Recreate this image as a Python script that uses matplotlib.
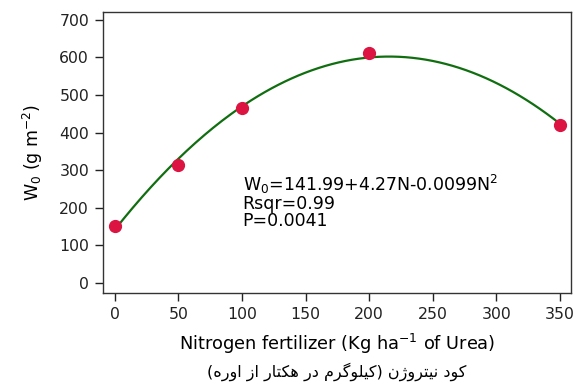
import numpy as np
import matplotlib
matplotlib.use('Agg')
import matplotlib.pyplot as plt

# measured points
nitrogen = [0, 50, 100, 200, 350]
w0 = [152, 315, 465, 612, 420]

# fitted quadratic W0 = a + bN + cN^2
coef_a, coef_b, coef_c = 141.99, 4.27, -0.0099

xticks = [0, 50, 100, 150, 200, 250, 300, 350]
yticks = [0, 100, 200, 300, 400, 500, 600, 700]

persian_label = 'کود نیتروژن (کیلوگرم در هکتار از اوره)'

# simple arabic shaping (matplotlib has no RTL support)
forms = {
    'ک': ('\uFB8E', '\uFB8F', '\uFB90', '\uFB91'),
    'گ': ('\uFB92', '\uFB93', '\uFB94', '\uFB95'),
    'ی': ('\uFBFC', '\uFBFD', '\uFBFE', '\uFBFF'),
    'ن': ('\uFEE5', '\uFEE6', '\uFEE7', '\uFEE8'),
    'ت': ('\uFE95', '\uFE96', '\uFE97', '\uFE98'),
    'ل': ('\uFEDD', '\uFEDE', '\uFEDF', '\uFEE0'),
    'م': ('\uFEE1', '\uFEE2', '\uFEE3', '\uFEE4'),
    'ه': ('\uFEE9', '\uFEEA', '\uFEEB', '\uFEEC'),
    'و': ('\uFEED', '\uFEEE', None, None),
    'د': ('\uFEA9', '\uFEAA', None, None),
    'ر': ('\uFEAD', '\uFEAE', None, None),
    'ژ': ('\uFB8A', '\uFB8B', None, None),
    'ا': ('\uFE8D', '\uFE8E', None, None),
    'ز': ('\uFEAF', '\uFEB0', None, None),
}


def shape(text):
    out = []
    for i, ch in enumerate(text):
        if ch not in forms:
            out.append(ch)
            continue
        prev = text[i - 1] if i > 0 else ''
        nxt = text[i + 1] if i + 1 < len(text) else ''
        join_prev = prev in forms and forms[prev][2] is not None
        join_next = forms[ch][2] is not None and nxt in forms
        iso, fin, ini, med = forms[ch]
        if join_prev and join_next:
            out.append(med)
        elif join_prev:
            out.append(fin)
        elif join_next:
            out.append(ini)
        else:
            out.append(iso)
    vis = ''.join(reversed(out))
    return vis.translate(str.maketrans('()', ')('))


# the reference font is a wide-ish sans, DejaVu fits its proportions best
plt.rcParams['font.family'] = ['DejaVu Sans']
plt.rcParams['mathtext.fontset'] = 'dejavusans'

fig = plt.figure(figsize=(5.75, 3.87), dpi=100)
ax = fig.add_axes([0.179, 0.243, 0.814, 0.726])

nn = np.linspace(0, 350, 200)
ax.plot(nn, coef_a + coef_b * nn + coef_c * nn ** 2, color='#106e10', lw=1.6, zorder=2)
ax.plot(nitrogen, w0, 'o', color='#dc1442', ms=8.5, zorder=3)

ax.set_xlim(-9.4, 358.7)
ax.set_ylim(-26.6, 721)
ax.set_xticks(xticks)
ax.set_yticks(yticks)
ax.tick_params(direction='out', length=6, width=1, pad=4, labelsize=11.3, colors='#222222')
for s in ax.spines.values():
    s.set_linewidth(1.0)
    s.set_color('#333333')

ax.set_xlabel('Nitrogen fertilizer (Kg ha$^{-1}$ of Urea)', fontsize=12.8, labelpad=7)
ax.set_ylabel('W$_0$ (g m$^{-2}$)', fontsize=12.5, labelpad=10)

ax.text(100.5, 292, 'W$_0$=141.99+4.27N-0.0099N$^2$\nRsqr=0.99\nP=0.0041',
        fontsize=12.5, va='top', ha='left', linespacing=0.9)

fig.text(0.586, 0.015, shape(persian_label), family='DejaVu Sans', fontsize=11.5,
         ha='center', va='bottom')

fig.savefig('out.png', dpi=100)
